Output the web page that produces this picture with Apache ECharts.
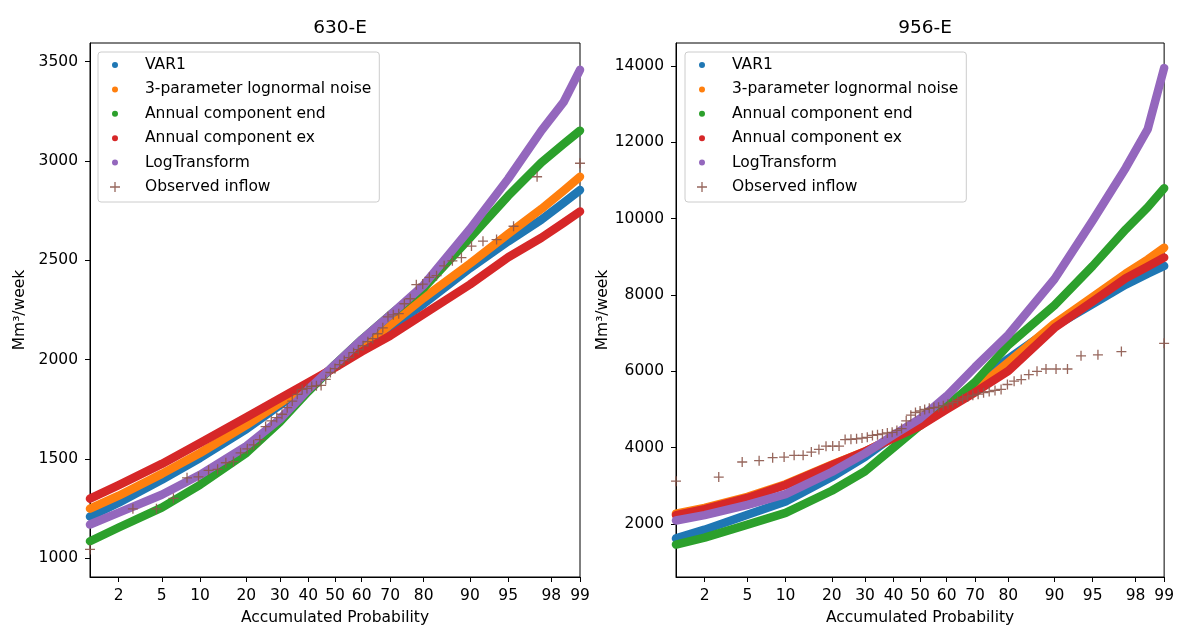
<!DOCTYPE html>
<html><head><meta charset="utf-8">
<script src="https://cdn.jsdelivr.net/npm/echarts@6/dist/echarts.min.js"></script>
<style>html,body{margin:0;padding:0;background:#fff}#c{width:1177px;height:631px}</style>
</head><body><div id="c"></div>
<script>
// ---------- data ----------
const seriesNames = ['VAR1','3-parameter lognormal noise','Annual component end','Annual component ex','LogTransform','Observed inflow'];
const colors = ['#1f77b4','#ff7f0e','#2ca02c','#d62728','#9467bd','#8c564b'];
const plotTitles = ['630-E','956-E'];
const xLabel = 'Accumulated Probability';
const yLabel = 'Mm³/week';

const probTicks = [2,5,10,20,30,40,50,60,70,80,90,95,98,99];
const probRange = [1, 99];

// probability grid (%) at which the simulated curves were read
const pGrid = [1,2,5,10,20,30,40,50,60,70,80,90,95,97.5,98.5,99];

// 630-E
const e630_var1   = [1210,1280,1395,1505,1650,1770,1870,1965,2060,2160,2280,2460,2595,2704,2788,2853];
const e630_logn3  = [1250,1315,1425,1530,1670,1780,1875,1965,2060,2175,2310,2483,2633,2758,2850,2920];
const e630_annEnd = [1086,1155,1255,1370,1530,1685,1840,1975,2100,2225,2360,2612,2824,2992,3085,3152];
const e630_annEx  = [1300,1368,1475,1580,1710,1805,1885,1960,2040,2120,2228,2378,2515,2613,2688,2745];
const e630_logT   = [1170,1230,1320,1420,1565,1700,1850,1975,2100,2225,2375,2657,2910,3152,3295,3458];

// 956-E
const e956_var1   = [1620,1850,2240,2590,3230,3760,4300,4680,5100,5670,6330,7180,7760,8270,8560,8760];
const e956_logn3  = [2270,2420,2710,3040,3550,3900,4270,4620,5040,5520,6240,7250,7950,8560,8930,9240];
const e956_annEnd = [1460,1640,1980,2290,2870,3380,4000,4580,5080,5720,6690,7730,8760,9720,10300,10800];
const e956_annEx  = [2230,2390,2680,3020,3540,3900,4250,4570,5000,5450,6010,7140,7830,8440,8750,8980];
const e956_logT   = [2090,2230,2500,2780,3360,3850,4330,4760,5350,6110,6960,8420,9950,11330,12350,13950];

// observed inflow: plotting positions (%) and values
const obsProb = [1.0,2.75,4.5,6.25,8.0,9.75,11.5,13.25,15.0,16.75,18.5,20.25,22.0,23.75,25.5,27.25,29.0,30.75,32.5,34.25,36.0,37.75,39.5,41.25,43.0,44.75,46.5,48.25,50.0,51.75,53.5,55.25,57.0,58.75,60.5,62.25,64.0,65.75,67.5,69.25,71.0,72.75,74.5,76.25,78.0,79.75,81.5,83.25,85.0,86.75,88.5,90.25,92.0,93.75,95.5,97.25,99.0];
const e630_obs = [1045,1249,1249,1302,1405,1410,1443,1448,1481,1487,1531,1551,1571,1597,1663,1692,1708,1725,1758,1791,1825,1850,1855,1865,1868,1870,1900,1935,1955,1975,1995,2010,2035,2050,2070,2090,2105,2130,2160,2215,2225,2231,2281,2306,2377,2380,2414,2422,2472,2497,2513,2571,2596,2604,2671,2920,2988];
const e956_obs = [3120,3227,3623,3659,3737,3753,3797,3797,3882,3952,4038,4040,4040,4210,4220,4230,4250,4270,4320,4340,4360,4385,4400,4450,4500,4700,4850,4920,4960,5000,5030,5050,5060,5100,5140,5180,5230,5280,5330,5370,5400,5440,5470,5500,5525,5655,5741,5784,5914,6000,6060,6060,6060,6406,6432,6518,6734];

const yTicks630 = [1000,1500,2000,2500,3000,3500];
const yRange630 = [906, 3593];
const yTicks956 = [2000,4000,6000,8000,10000,12000,14000];
const yRange956 = [609, 14605];

// ---------- normal-probability axis transform ----------
function normInv(p){
  const a=[-3.969683028665376e+01,2.209460984245205e+02,-2.759285104469687e+02,1.383577518672690e+02,-3.066479806614716e+01,2.506628277459239e+00];
  const b=[-5.447609879822406e+01,1.615858368580409e+02,-1.556989798598866e+02,6.680131188771972e+01,-1.328068155288572e+01];
  const c=[-7.784894002430293e-03,-3.223964580411365e-01,-2.400758277161838e+00,-2.549732539343734e+00,4.374664141464968e+00,2.938163982698783e+00];
  const d=[7.784695709041462e-03,3.224671290700398e-01,2.445134137142996e+00,3.754408661907416e+00];
  const pl=0.02425, ph=1-pl; let q,r;
  if(p<pl){q=Math.sqrt(-2*Math.log(p));return (((((c[0]*q+c[1])*q+c[2])*q+c[3])*q+c[4])*q+c[5])/((((d[0]*q+d[1])*q+d[2])*q+d[3])*q+1);}
  if(p<=ph){q=p-0.5;r=q*q;return (((((a[0]*r+a[1])*r+a[2])*r+a[3])*r+a[4])*r+a[5])*q/(((((b[0]*r+b[1])*r+b[2])*r+b[3])*r+b[4])*r+1);}
  q=Math.sqrt(-2*Math.log(1-p));return -(((((c[0]*q+c[1])*q+c[2])*q+c[3])*q+c[4])*q+c[5])/((((d[0]*q+d[1])*q+d[2])*q+d[3])*q+1);
}
const z = p => normInv(p/100);
const tickZ = probTicks.map(z);
const zMin = z(probRange[0]), zMax = z(probRange[1]);

// ---------- styling ----------
const FONT = 'DejaVu Sans';
const FS = 15.5;
const plusPath = 'path://M4.35,0H5.65V4.35H10V5.65H5.65V10H4.35V5.65H0V4.35H4.35Z';
const dotPath = 'path://M0,0L0.01,0L0,0.01Z M10,10L9.99,10L10,9.99Z M8,5A3,3,0,1,1,2,5A3,3,0,1,1,8,5Z';

const grids = [
  {left: 90, right: 597, top: 43, bottom: 48},
  {left: 676, right: 12, top: 43, bottom: 48}
];
const legendLeft = [98, 685];

function xAxisFor(i){
  return {
    type: 'value', gridIndex: i, min: zMin, max: zMax,
    name: xLabel, nameLocation: 'middle', nameGap: 33,
    nameTextStyle: {fontFamily: FONT, fontSize: FS, color: '#000'},
    axisLine: {show: true, onZero: false, lineStyle: {color: '#000', width: 1}},
    axisTick: {show: true, length: 5, lineStyle: {color: '#000'}, customValues: tickZ},
    axisLabel: {customValues: tickZ, margin: 11, fontFamily: FONT, fontSize: FS, color: '#000',
      formatter: v => { let bi = 0, bd = 1e9; tickZ.forEach((t,k)=>{const dd=Math.abs(t-v); if(dd<bd){bd=dd;bi=k;}}); return String(probTicks[bi]); }},
    splitLine: {show: false}
  };
}
function yAxisFor(i, ticks, range, gap){
  return {
    type: 'value', gridIndex: i, min: range[0], max: range[1],
    name: yLabel, nameLocation: 'middle', nameGap: gap,
    nameTextStyle: {fontFamily: FONT, fontSize: FS, color: '#000'},
    axisLine: {show: true, onZero: false, lineStyle: {color: '#000', width: 1}},
    axisTick: {show: true, length: 5, lineStyle: {color: '#000'}, customValues: ticks},
    axisLabel: {customValues: ticks, margin: 12, fontFamily: FONT, fontSize: FS, color: '#000', formatter: v => String(v)},
    splitLine: {show: false}
  };
}

const plotData = [
  [e630_var1, e630_logn3, e630_annEnd, e630_annEx, e630_logT, e630_obs],
  [e956_var1, e956_logn3, e956_annEnd, e956_annEx, e956_logT, e956_obs]
];

const series = [];
plotData.forEach((arrs, gi) => {
  for (let s = 0; s < 5; s++) {
    series.push({
      type: 'line', name: seriesNames[s], xAxisIndex: gi, yAxisIndex: gi,
      data: pGrid.map((p, k) => [z(p), arrs[s][k]]),
      showSymbol: false, smooth: false,
      lineStyle: {width: 8.5, color: colors[s], cap: 'round', join: 'round'},
      itemStyle: {color: colors[s]}, silent: true, animation: false, z: 2 + s
    });
  }
  series.push({
    type: 'scatter', name: seriesNames[5], xAxisIndex: gi, yAxisIndex: gi,
    data: obsProb.map((p, k) => [z(p), arrs[5][k]]),
    symbol: plusPath, symbolSize: 10,
    itemStyle: {color: colors[5], opacity: 0.9}, silent: true, animation: false, z: 10
  });
});

const legendData = seriesNames.map((n, i) => ({name: n, icon: i < 5 ? dotPath : plusPath}));
const legends = legendLeft.map(l => ({
  left: l, top: 52, orient: 'vertical', selectedMode: false,
  padding: [5, 8, 7, 12], itemWidth: 20, itemHeight: 10, itemGap: 8.4,
  backgroundColor: 'rgba(255,255,255,0.85)', borderColor: '#cccccc', borderWidth: 1, borderRadius: 3,
  itemStyle: {borderWidth: 0},
  textStyle: {fontFamily: FONT, fontSize: FS, color: '#000', lineHeight: 16, padding: [0,0,0,15]},
  data: legendData
}));

const option = {
  backgroundColor: '#fff',
  animation: false,
  color: colors,
  title: [
    {text: plotTitles[0], left: 335, top: 14, textAlign: 'center', textStyle: {fontFamily: FONT, fontSize: 18.5, fontWeight: 'normal', color: '#000'}},
    {text: plotTitles[1], left: 920, top: 14, textAlign: 'center', textStyle: {fontFamily: FONT, fontSize: 18.5, fontWeight: 'normal', color: '#000'}}
  ],
  grid: grids.map(g => Object.assign({show: true, borderColor: '#000', borderWidth: 1, backgroundColor: 'transparent'}, g)),
  legend: legends,
  xAxis: [xAxisFor(0), xAxisFor(1)],
  yAxis: [yAxisFor(0, yTicks630, yRange630, 62), yAxisFor(1, yTicks956, yRange956, 62)],
  series: series
};

const chart = echarts.init(document.getElementById('c'), null, {renderer: 'canvas'});
chart.setOption(option);
</script>
</body></html>
